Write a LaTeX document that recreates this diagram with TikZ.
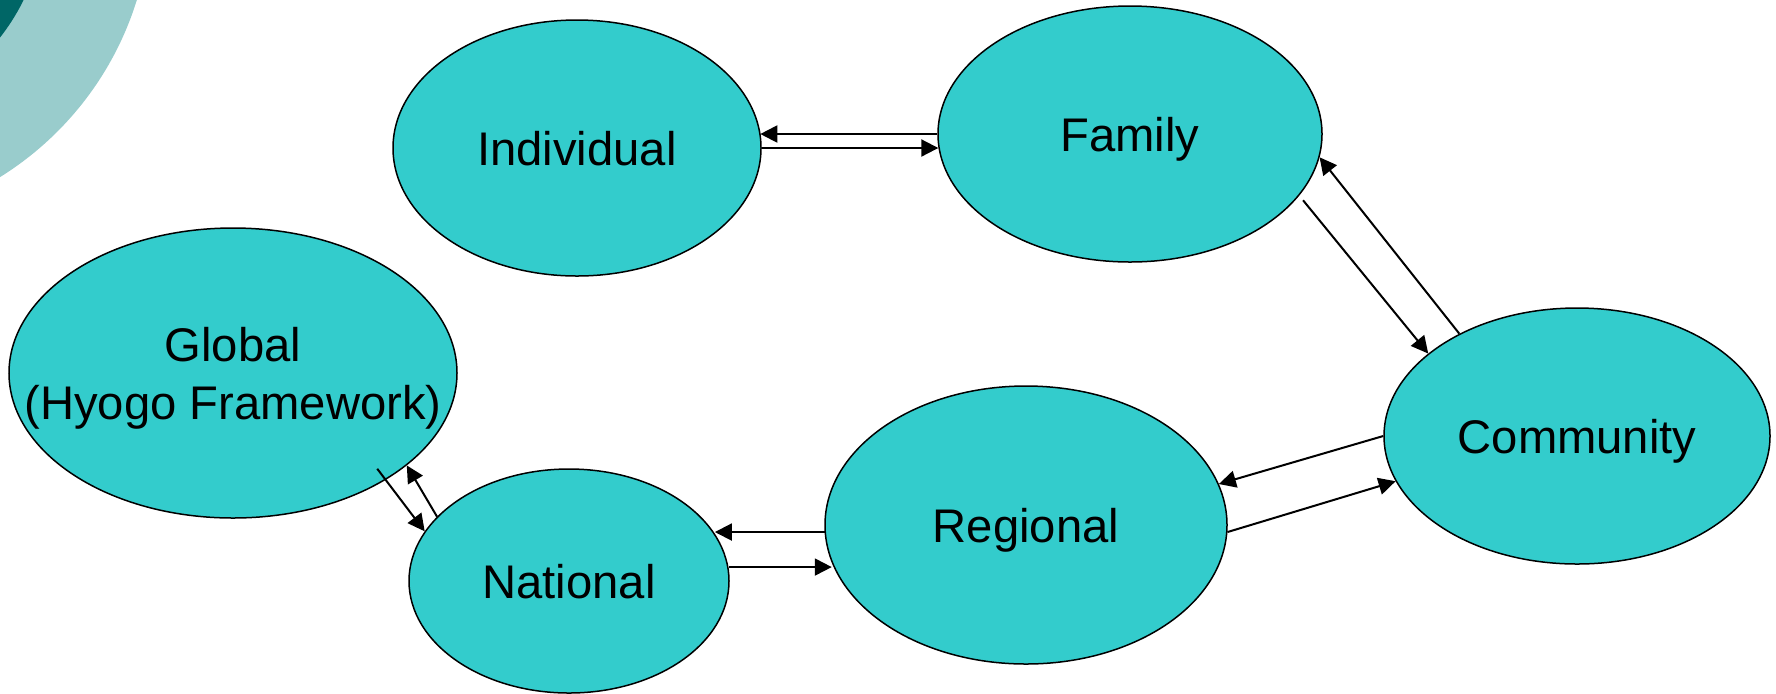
\documentclass[tikz,border=0pt]{standalone}
\usepackage{fontspec}
\setmainfont{Liberation Sans}
\usetikzlibrary{shapes.geometric,arrows.meta}
\definecolor{nodeteal}{HTML}{33CCCC}
\definecolor{palecyan}{HTML}{99CCCC}
\definecolor{darkteal}{HTML}{006666}

\begin{document}
\begin{tikzpicture}[x=0.5pt, y=-0.5pt]
        \useasboundingbox (0,0) rectangle (1776,693);

        % Corner decoration.
        \begin{scope}
            \clip (0,0) rectangle (1776,693);
            \fill[palecyan] (-168.5,-94.4) circle[radius=159.75pt];
            \fill[darkteal] (-168.5,-94.4) circle[radius=107pt];
        \end{scope}

        \begin{scope}[%
            every node/.style = {%
                ellipse,
                draw,
                fill = nodeteal,
                line width = 0.75pt,
                inner sep = 0pt,
                text depth = 0pt,
                font = \fontsize{23.6}{29}\selectfont,
                align = center
            }
        ]

            % Nodes (levels) of the diagram.
            \node[minimum width=184pt, minimum height=128pt] (ind) at (577,148) {Individual};
            \node[minimum width=192pt, minimum height=128pt] (fam) at (1130,134) {Family};
            \node[minimum width=224pt, minimum height=145pt, inner xsep=-40pt] (glo) at (233,373) {Global\\(Hyogo Framework)};
            \node[minimum width=160pt, minimum height=112pt] (nat) at (569,581) {National};
            \node[minimum width=201pt, minimum height=139pt] (reg) at (1026,525) {Regional};
            \node[minimum width=193pt, minimum height=128pt] (com) at (1577,436) {Community};
        \end{scope}

        \begin{scope}[%
            > = {Triangle[length=8.5pt, width=8.5pt]},
            every edge/.style = {%
                draw = black,
                line width = 1pt
            }
        ]

            % Arrows between the levels.
            \path [->] (fam.180) edge (fam.180 -| ind.5);
            \path [->] (ind.east) edge (ind.east -| fam.184);
            \path [->] (fam.-20) edge[shorten <= 3pt] (com.151);
            \path [->] (com.139) edge (fam.-7);
            \path [->] (com.west) edge (reg.12);
            \path [->] (reg.-2) edge (com.194);
            \path [->] (reg.182) edge (reg.182 -| nat.18);
            \path [->] (nat.5) edge (nat.5 -| reg.191);
            \path [->] (glo.-35) edge[shorten <= -7pt] (nat.161);
            \path [->] (nat.154) edge (glo.-28);
        \end{scope}
    \end{tikzpicture}
\end{document}
